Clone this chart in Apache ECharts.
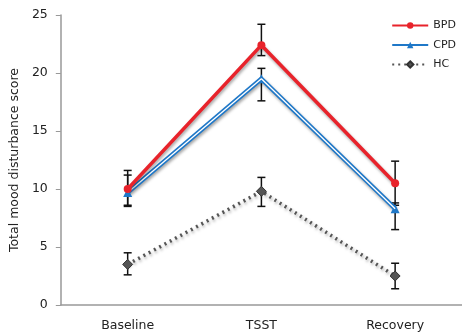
<!doctype html>
<html>
<head>
<meta charset="UTF-8">
<script src="https://cdn.jsdelivr.net/npm/echarts@6/dist/echarts.min.js"></script>
<style>
  body { margin: 0; background: #fff; }
  #chart { width: 462px; height: 335px; }
</style>
</head>
<body>
<div id="chart"></div>
<script>
var categories = ['Baseline', 'TSST', 'Recovery'];

var bpd = [10.0, 22.4, 10.5];
var bpdLo = [8.5, 21.5, 8.6];
var bpdHi = [11.6, 24.2, 12.4];

var cpd = [9.7, 19.5, 8.3];
var cpdLo = [8.6, 17.6, 6.5];
var cpdHi = [11.2, 20.4, 8.8];

var hc = [3.5, 9.8, 2.5];
var hcLo = [2.6, 8.5, 1.4];
var hcHi = [4.5, 11.0, 3.6];

var yTicks = [0, 5, 10, 15, 20, 25];

var font = 'DejaVu Sans';

function errData(lo, hi) {
    var out = [];
    for (var i = 0; i < lo.length; i++) out.push([i, lo[i], hi[i]]);
    return out;
}

// vertical bar with caps
function renderErr(params, api) {
    var x = api.value(0);
    var a = api.coord([x, api.value(1)]);
    var b = api.coord([x, api.value(2)]);
    var half = 4;
    var st = { stroke: '#111', lineWidth: 1.5 };
    return {
        type: 'group',
        children: [
            { type: 'line', shape: { x1: a[0], y1: a[1], x2: b[0], y2: b[1] }, style: st },
            { type: 'line', shape: { x1: a[0] - half, y1: a[1], x2: a[0] + half, y2: a[1] }, style: st },
            { type: 'line', shape: { x1: b[0] - half, y1: b[1], x2: b[0] + half, y2: b[1] }, style: st }
        ]
    };
}

var shadow = { shadowColor: 'rgba(0,0,0,0.35)', shadowBlur: 3, shadowOffsetX: 1, shadowOffsetY: 2 };

var myChart = echarts.init(document.getElementById('chart'));
var option = {
    animation: false,
    backgroundColor: '#fff',
    grid: { left: 60, right: -3, top: 15, bottom: 30 },
    legend: {
        data: ['BPD', 'CPD', 'HC'],
        orient: 'vertical',
        right: 1,
        top: 15,
        itemWidth: 36,
        itemHeight: 8,
        itemGap: 8.5,
        textStyle: { fontFamily: font, fontSize: 11, color: '#222' }
    },
    xAxis: {
        type: 'category',
        data: categories,
        axisLine: { lineStyle: { color: '#999', width: 1.5 } },
        axisTick: { inside: true, length: 5, lineStyle: { color: '#999' } },
        axisLabel: { fontFamily: font, fontSize: 12.5, color: '#222', margin: 14 }
    },
    yAxis: {
        type: 'value',
        min: yTicks[0],
        max: yTicks[yTicks.length - 1],
        interval: 5,
        name: 'Total mood disturbance score',
        nameLocation: 'middle',
        nameGap: 38,
        nameTextStyle: { fontFamily: font, fontSize: 12.5, color: '#222' },
        splitLine: { show: false },
        axisLine: { show: true, lineStyle: { color: '#999', width: 1.5 } },
        axisTick: { show: true, length: 5, lineStyle: { color: '#999' } },
        axisLabel: { fontFamily: font, fontSize: 12.5, color: '#222', margin: 13 }
    },
    series: [
        { type: 'custom', name: 'errBPD', renderItem: renderErr, data: errData(bpdLo, bpdHi), z: 1, silent: true },
        { type: 'custom', name: 'errCPD', renderItem: renderErr, data: errData(cpdLo, cpdHi), z: 1, silent: true },
        { type: 'custom', name: 'errHC', renderItem: renderErr, data: errData(hcLo, hcHi), z: 1, silent: true },
        {
            name: 'HC', type: 'line', data: hc, z: 3,
            symbol: 'diamond', symbolSize: 10,
            lineStyle: Object.assign({ color: '#555', width: 3.5, type: [2, 4] }, shadow),
            itemStyle: { color: '#555', borderColor: '#333', borderWidth: 1 }
        },
        {
            name: 'CPD', type: 'line', data: cpd, z: 4,
            symbol: 'triangle', symbolSize: 9,
            lineStyle: Object.assign({ color: '#1f78c8', width: 4.5 }, shadow),
            itemStyle: { color: '#1f78c8' }
        },
        {
            name: 'CPDinner', type: 'line', data: cpd, z: 5,
            symbol: 'none', silent: true,
            lineStyle: { color: '#ffffff', width: 1.3 }
        },
        {
            name: 'BPD', type: 'line', data: bpd, z: 6,
            symbol: 'circle', symbolSize: 8,
            lineStyle: Object.assign({ color: '#e8232b', width: 3.5 }, shadow),
            itemStyle: { color: '#e8232b' }
        }
    ]
};
myChart.setOption(option);
</script>
</body>
</html>
